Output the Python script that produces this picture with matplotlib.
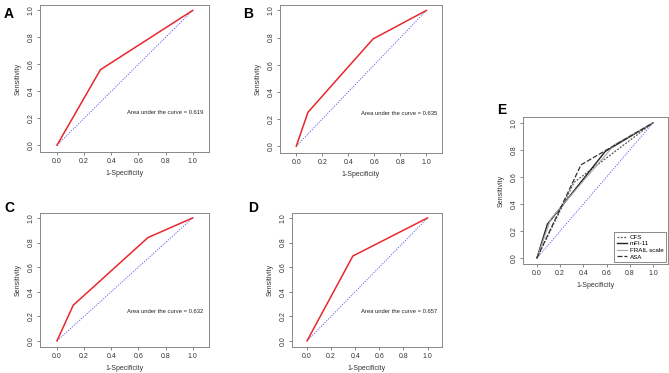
import matplotlib
matplotlib.use("Agg")
import matplotlib.pyplot as plt

plt.rcParams['font.family'] = ['Liberation Sans', 'DejaVu Sans']

# ROC curve points (1-specificity, sensitivity)
fpr_a = [0.0, 0.32, 1.0]
tpr_a = [0.0, 0.56, 1.0]
fpr_b = [0.0, 0.09, 0.59, 1.0]
tpr_b = [0.0, 0.25, 0.79, 1.0]
fpr_c = [0.0, 0.12, 0.67, 1.0]
tpr_c = [0.0, 0.29, 0.84, 1.0]
fpr_d = [0.0, 0.38, 1.0]
tpr_d = [0.0, 0.69, 1.0]
auc_values = [0.619, 0.635, 0.632, 0.657]
panel_labels = ['A', 'B', 'C', 'D']
legend_names = ['CFS', 'mFI-11', 'FRAIL scale', 'ASA']
ticks = [0.0, 0.2, 0.4, 0.6, 0.8, 1.0]

W, H = 669, 373
fig = plt.figure(figsize=(W / 100, H / 100), dpi=100)
FS = 5


def px_axes(x0, y0, x1, y1):
    return fig.add_axes([x0 / W, 1 - y1 / H, (x1 - x0) / W, (y1 - y0) / H])


def style(ax, xlim, ylim):
    ax.set_xlim(*xlim)
    ax.set_ylim(*ylim)
    ax.set_xticks(ticks)
    ax.set_yticks(ticks)
    ax.set_xticklabels([f"{t:.1f}" for t in ticks], fontsize=FS, color='#333333')
    ax.set_yticklabels([f"{t:.1f}" for t in ticks], fontsize=FS, color='#333333',
                       rotation=90, va='center')
    ax.tick_params(length=2, width=0.5, color='#555555', pad=2)
    for s in ax.spines.values():
        s.set_color('#888888')
        s.set_linewidth(0.7)
    ax.set_xlabel('1-Specificity', fontsize=FS, labelpad=4, color='#333333')
    ax.set_ylabel('Sensitivity', fontsize=FS, labelpad=4, color='#333333')


boxes = [(40, 5, 209, 152), (280, 5, 442, 153), (40, 213, 209, 347), (292, 213, 442, 347)]
label_pos = [(4, 14), (243, 14), (4, 208), (248, 208)]
curves = [(fpr_a, tpr_a), (fpr_b, tpr_b), (fpr_c, tpr_c), (fpr_d, tpr_d)]

for box, (fx, ty), (lx, ly), auc, lab in zip(boxes, curves, label_pos, auc_values, panel_labels):
    ax = px_axes(*box)
    ax.plot([0, 1], [0, 1], ls=(0, (1.5, 1.5)), color='#5555ee', lw=0.6)
    ax.plot(fx, ty, color='#e8282e', lw=1.1)
    style(ax, (-0.125, 1.12), (-0.05, 1.04))
    ax.text(1.08, 0.24, f"Area under the curve = {auc:.3f}", fontsize=4.2,
            ha='right', va='center', color='#222222')
    fig.text(lx / W, 1 - ly / H, lab, fontsize=10, fontweight='bold', va='center')

# Panel E: all curves together
ax = px_axes(523, 117, 668, 264)
ax.plot([0, 1], [0, 1], ls=(0, (1.5, 1.5)), color='#5555ee', lw=0.6)
e_styles = [
    dict(color='#555555', lw=0.9, ls=(0, (1.5, 1.2))),
    dict(color='#222222', lw=1.0, ls='-'),
    dict(color='#aaaaaa', lw=0.8, ls='-'),
    dict(color='#333333', lw=0.9, ls=(0, (4, 1.5))),
]
for (fx, ty), name, st in zip(curves, legend_names, e_styles):
    ax.plot(fx, ty, label=name, **st)
style(ax, (-0.12, 1.13), (-0.044, 1.044))
leg = ax.legend(loc='lower right', bbox_to_anchor=(1.0, 0.0), fontsize=4.5,
                frameon=True, fancybox=False, edgecolor='#555555',
                handlelength=1.6, handletextpad=0.5, borderpad=0.4,
                labelspacing=0.2, borderaxespad=0.3)
leg.get_frame().set_linewidth(0.6)
fig.text(497 / W, 1 - 110 / H, 'E', fontsize=10, fontweight='bold', va='center')

fig.savefig('out.png', dpi=100)
